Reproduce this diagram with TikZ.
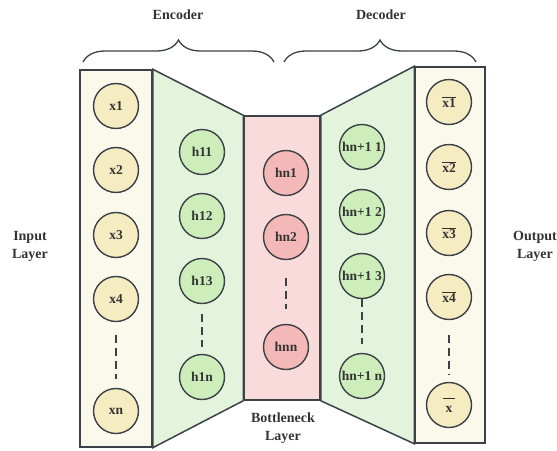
\documentclass[tikz,border=0pt]{standalone}
\usepackage{fontspec}
\setmainfont{Liberation Serif}
\usetikzlibrary{positioning, decorations.pathreplacing}
\definecolor{aegray}{HTML}{3C4148}
\definecolor{aetext}{HTML}{333333}
\definecolor{incream}{HTML}{FBF8EC}
\definecolor{inyellow}{HTML}{F5ECC2}
\definecolor{hidgreen}{HTML}{E4F4DC}
\definecolor{unitgreen}{HTML}{CDEEBB}
\definecolor{neckred}{HTML}{F9DBDB}
\definecolor{unitred}{HTML}{F5B8B8}
\newcommand{\recon}[1]{$\overline{\mbox{#1}}$}

\begin{document}
\begin{tikzpicture}[
  x=1pt, y=-1pt,
  layerbox/.style={rectangle, draw=aegray, line width=1.5pt, fill=#1, inner sep=0pt},
  unit/.style={circle, draw=aegray, line width=1.4pt, fill=#1, minimum size=45pt, inner sep=0pt, outer sep=0pt, font=\fontsize{13.5}{15}\selectfont\bfseries, text=aetext},
  gap/.style={draw=aegray, line width=1.3pt, dash pattern=on 8pt off 5pt},
  caption/.style={font=\fontsize{14}{18}\selectfont\bfseries, text=aetext, align=center},
  span/.style={draw=aegray, line width=1.3pt, decorate, decoration={brace, amplitude=22pt}}
]
  \useasboundingbox (0,0) rectangle (557,450);

  % Layer boxes
  \node[layerbox=incream, minimum width=72pt, minimum height=377pt] (inbox) at (116,258.5) {};
  \node[layerbox=neckred, minimum width=76pt, minimum height=284pt] (neck) at (282,258) {};
  \node[layerbox=incream, minimum width=70pt, minimum height=376pt] (outbox) at (450,255) {};

  % Encoder and decoder trapezoids
  \draw[fill=hidgreen, draw=aegray, line width=1.5pt] (inbox.north east) -- (neck.north west) -- (neck.south west) -- (inbox.south east) -- cycle;
  \draw[fill=hidgreen, draw=aegray, line width=1.5pt] (neck.north east) -- (outbox.north west) -- (outbox.south west) -- (neck.south east) -- cycle;

  % Input layer
  \node[unit=inyellow] (x1) at (116,106) {x1};
  \node[unit=inyellow, below=19pt of x1] (x2) {x2};
  \node[unit=inyellow, below=20pt of x2] (x3) {x3};
  \node[unit=inyellow, below=19pt of x3] (x4) {x4};
  \node[unit=inyellow, below=67pt of x4] (xn) {xn};
  \draw[gap, shorten <=13pt, shorten >=10pt] (x4) -- (xn);

  % Encoder hidden layer
  \node[unit=unitgreen] (h11) at (202,152) {h11};
  \node[unit=unitgreen, below=19pt of h11] (h12) {h12};
  \node[unit=unitgreen, below=20pt of h12] (h13) {h13};
  \node[unit=unitgreen, below=51pt of h13] (h1n) {h1n};
  \draw[gap, shorten <=10pt, shorten >=8pt] (h13) -- (h1n);

  % Bottleneck
  \node[unit=unitred] (hn1) at (286,173) {hn1};
  \node[unit=unitred, below=19pt of hn1] (hn2) {hn2};
  \node[unit=unitred, below=65pt of hn2] (hnn) {hnn};
  \draw[gap, shorten <=18pt, shorten >=16pt] (hn2) -- (hnn);

  % Decoder hidden layer
  \node[unit=unitgreen] (d1) at (362,147) {hn+1 1};
  \node[unit=unitgreen, below=20pt of d1] (d2) {hn+1 2};
  \node[unit=unitgreen, below=19pt of d2] (d3) {hn+1 3};
  \node[unit=unitgreen, below=55pt of d3] (dn) {hn+1 n};
  \draw[gap, shorten <=0pt, shorten >=10pt] (d3) -- (dn);

  % Output layer
  \node[unit=inyellow] (o1) at (449,102) {\recon{x1}};
  \node[unit=inyellow, below=20pt of o1] (o2) {\recon{x2}};
  \node[unit=inyellow, below=21pt of o2] (o3) {\recon{x3}};
  \node[unit=inyellow, below=19pt of o3] (o4) {\recon{x4}};
  \node[unit=inyellow, below=63pt of o4] (on) {\recon{\,x\,\rule{0pt}{13pt}}};
  \draw[gap, shorten <=15pt, shorten >=8pt] (o4) -- (on);

  % Braces and captions
  \coordinate (encl) at (83,62);
  \coordinate (encr) at (274,62);
  \coordinate (decl) at (284,62);
  \coordinate (decr) at (476,62);
  \draw[span] (encl) -- (encr);
  \draw[span] (decl) -- (decr);
  \node[caption] (enc) at (178,15) {Encoder};
  \node[caption] (dec) at (381,15) {Decoder};
  \node[caption] (inlab) at (30,246) {Input\\Layer};
  \node[caption] (outlab) at (535,246) {Output\\Layer};
  \node[caption] (necklab) at (283,428) {Bottleneck\\Layer};
\end{tikzpicture}
\end{document}
